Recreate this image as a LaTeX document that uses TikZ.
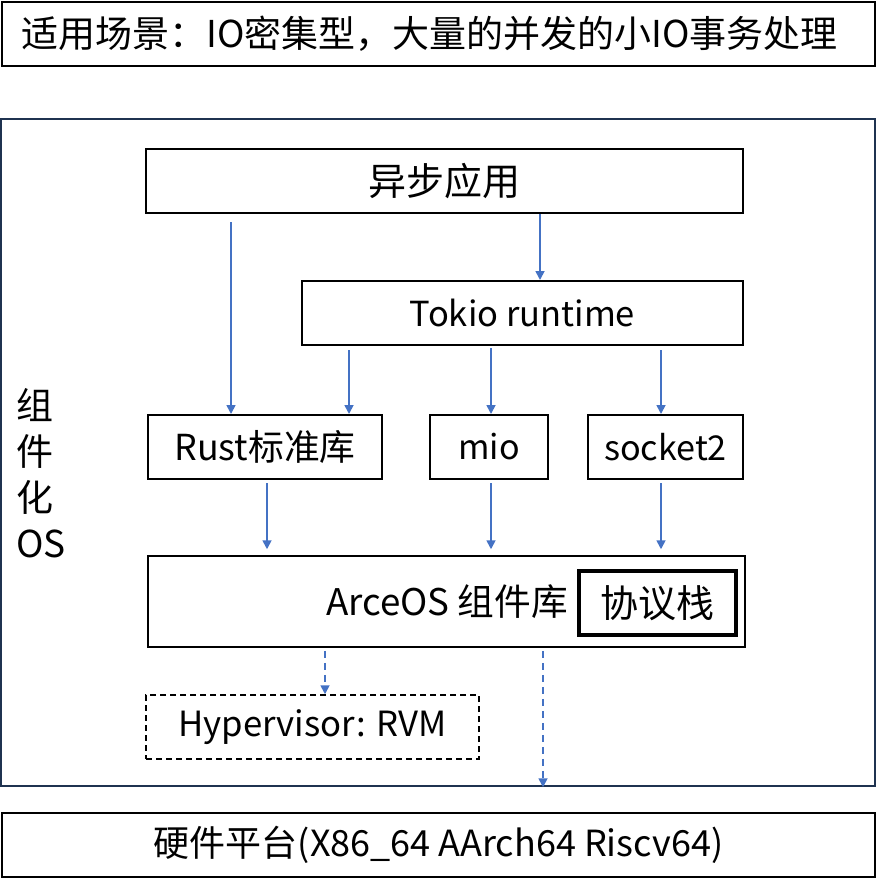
\documentclass[tikz,border=0pt]{standalone}
\usepackage{fontspec}
\setmainfont{Noto Sans CJK SC}
\usetikzlibrary{arrows.meta}
\definecolor{arrblue}{HTML}{4472C4}
\definecolor{navy}{HTML}{1F3350}
\newcommand{\fs}[1]{\fontsize{#1}{#1}\selectfont}
\begin{document}
\begin{tikzpicture}[x=1pt,y=-1pt,
  box/.style={draw=black,line width=2pt,inner sep=0pt},
  arr/.style={draw=arrblue,line width=1.7pt,-{Triangle[length=9pt,width=9pt]}},
  darr/.style={arr,dashed,dash pattern=on 7pt off 5pt}]
\useasboundingbox (0,0) rectangle (877,880);
% title
\node[box,minimum width=873pt,minimum height=64pt,font=\fs{37}] (title) at (438.5,34) {适用场景：IO密集型，大量的并发的小IO事务处理\hspace*{18pt}};
% outer frame
\node[draw=navy,line width=2.5pt,minimum width=874pt,minimum height=667pt,inner sep=0pt] (frame) at (438,452.5) {};
% left label
\node[anchor=north west,align=left,inner sep=0pt,font=\fontsize{37}{46}\selectfont] (side) at (16,388) {组\\件\\化\\OS};
% boxes
\node[box,minimum width=597pt,minimum height=64pt,font=\fs{38}] (app) at (444.5,181) {异步应用};
\node[box,minimum width=441pt,minimum height=64pt,font=\fs{34.5}] (tokio) at (522.5,313) {Tokio runtime};
\node[box,minimum width=234pt,minimum height=64pt,font=\fs{35.8}] (rust) at (265,447) {Rust标准库};
\node[box,minimum width=118pt,minimum height=64pt,font=\fs{34}] (mio) at (489,447) {mio};
\node[box,minimum width=155pt,minimum height=64pt,font=\fs{34.2}] (sock) at (665.5,447) {socket2};
\node[box,line width=1.5pt,minimum width=597pt,minimum height=91pt] (arce) at (446.5,601.5) {};
\node[inner sep=0pt,font=\fs{36.7}] (arcelabel) at (447,602) {ArceOS 组件库};
\node[box,line width=3.5pt,minimum width=157pt,minimum height=64pt,font=\fs{38}] (stack) at (657.5,603) {协议栈};
\node[box,line width=1.5pt,dashed,dash pattern=on 6pt off 4pt,minimum width=333pt,minimum height=64pt,font=\fs{34.7}] (hyp) at (312.5,727) {Hypervisor: RVM};
\node[box,minimum width=873pt,minimum height=64pt,font=\fs{36}] (hw) at (438.5,845) {硬件平台(X86\_64 AArch64 Riscv64)};
% arrows
\draw[arr,shorten <=8pt] (app.south -| 231,0) -- (rust.north -| 231,0);
\draw[arr] (app.south -| 540,0) -- (tokio.north -| 540,0);
\draw[arr,shorten <=4pt] (tokio.south -| 349,0) -- (rust.north -| 349,0);
\draw[arr,shorten <=2pt] (tokio.south -| 491,0) -- (mio.north -| 491,0);
\draw[arr,shorten <=4pt] (tokio.south -| 661,0) -- (sock.north -| 661,0);
\draw[arr,shorten <=3pt,shorten >=6pt] (rust.south -| 267,0) -- (arce.north -| 267,0);
\draw[arr,shorten <=3pt,shorten >=6pt] (mio.south -| 491,0) -- (arce.north -| 491,0);
\draw[arr,shorten <=3pt,shorten >=6pt] (sock.south -| 661,0) -- (arce.north -| 661,0);
\draw[darr,shorten <=3pt] (arce.south -| 325,0) -- (hyp.north -| 325,0);
\draw[darr,shorten <=3pt] (arce.south -| 543,0) -- (frame.south -| 543,0);
\end{tikzpicture}
\end{document}
